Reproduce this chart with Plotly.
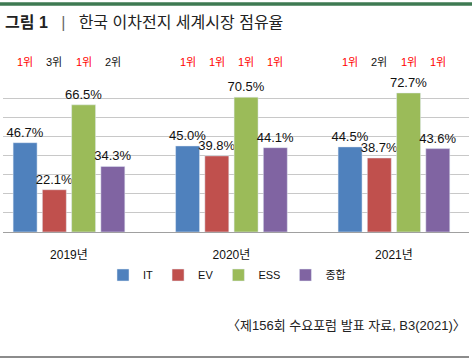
import plotly.graph_objects as go

years = ["2019년", "2020년", "2021년"]
series = ["IT", "EV", "ESS", "종합"]
colors = ["#4f81bd", "#c0504d", "#9bbb59", "#8064a2"]
values = {
    "IT": [46.7, 45.0, 44.5],
    "EV": [22.1, 39.8, 38.7],
    "ESS": [66.5, 70.5, 72.7],
    "종합": [34.3, 44.1, 43.6],
}
ranks = {
    "IT": ["1위", "1위", "1위"],
    "EV": ["3위", "1위", "2위"],
    "ESS": ["1위", "1위", "1위"],
    "종합": ["2위", "1위", "1위"],
}

FONT = "Liberation Sans, Noto Sans CJK KR, sans-serif"
W, H = 472, 360


def fy(px):
    return 1 - px / H


def fx(px):
    return px / W


bargap = 0.28
groupgap = 0.18
slot = (1 - bargap) / len(series)
xs = list(range(len(years)))

fig = go.Figure()
anns = []
for i, s in enumerate(series):
    fig.add_trace(go.Bar(
        name=s, x=xs, y=values[s], marker_color=colors[i],
        text=[f"{v:.1f}%" for v in values[s]], textposition="outside",
        constraintext="none",
        textfont=dict(size=13, color="#111", family=FONT),
        cliponaxis=False, hoverinfo="skip",
    ))
    for j, r in enumerate(ranks[s]):
        anns.append(dict(
            x=j + (i - (len(series) - 1) / 2) * slot, y=fy(62), xref="x", yref="paper",
            text=r, showarrow=False, xanchor="center", yanchor="middle",
            font=dict(size=11, color="#ff0000" if r == "1위" else "#111", family=FONT),
        ))

anns.append(dict(x=fx(3), y=fy(22), xref="paper", yref="paper", xanchor="left", yanchor="middle",
                 text="<b>그림 1</b>   <span style='color:#666'>|</span>   한국 이차전지 세계시장 점유율",
                 showarrow=False, font=dict(size=16, color="#222", family=FONT)))
anns.append(dict(x=fx(468), y=fy(325), xref="paper", yref="paper", xanchor="right", yanchor="middle",
                 text="〈제156회 수요포럼 발표 자료, B3(2021)〉",
                 showarrow=False, font=dict(size=13, color="#222", family=FONT)))

# decorative rules: top green, bottom gray (overlay axes spanning the whole figure)
fig.add_trace(go.Scatter(x=[0, W], y=[4, 4], mode="lines", xaxis="x2", yaxis="y2",
                         line=dict(color="#3e7a52", width=3), showlegend=False, hoverinfo="skip"))
fig.add_trace(go.Scatter(x=[0, 469], y=[357, 357], mode="lines", xaxis="x2", yaxis="y2",
                         line=dict(color="#666666", width=1), showlegend=False, hoverinfo="skip"))

fig.update_layout(
    width=W, height=H,
    margin=dict(l=0, r=0, t=0, b=0, pad=0, autoexpand=False),
    paper_bgcolor="white", plot_bgcolor="rgba(0,0,0,0)",
    barmode="group", bargap=bargap, bargroupgap=groupgap,
    showlegend=True,
    legend=dict(orientation="h", x=fx(227), xanchor="center", y=fy(275), yanchor="middle",
                font=dict(size=11, color="#111", family=FONT),
                itemwidth=30, tracegroupgap=0, bgcolor="rgba(0,0,0,0)"),
    xaxis=dict(domain=[fx(3), fx(469)], range=[-0.406, 2.462], tickvals=xs, ticktext=years,
               showgrid=False, zeroline=False, showline=False, ticks="outside", ticklen=12,
               tickcolor="rgba(0,0,0,0)", automargin=False, fixedrange=True,
               tickfont=dict(size=12, color="#111", family=FONT)),
    yaxis=dict(domain=[fy(232), fy(79)], range=[0, 80], dtick=10, showgrid=True,
               gridcolor="#c8c8c8", gridwidth=1, showticklabels=False, zeroline=True,
               zerolinecolor="#a0a0a0", zerolinewidth=1, showline=False, automargin=False,
               fixedrange=True),
    xaxis2=dict(domain=[0, 1], range=[0, W], anchor="y2", visible=False, fixedrange=True),
    yaxis2=dict(domain=[0, 1], range=[H, 0], anchor="x2", visible=False, fixedrange=True),
    font=dict(family=FONT),
    annotations=anns,
    shapes=[
        dict(type="rect", xref="paper", yref="paper", x0=0, x1=1,
             y0=fy(5.5), y1=fy(2.5), fillcolor="#3e7a52", line=dict(width=0)),
        dict(type="rect", xref="paper", yref="paper", x0=0, x1=fx(469),
             y0=fy(357.5), y1=fy(356.5), fillcolor="#666666", line=dict(width=0)),
    ],
)
fig.write_html("out.html", config={"displayModeBar": False},
               post_script="document.body.style.margin='0';")
